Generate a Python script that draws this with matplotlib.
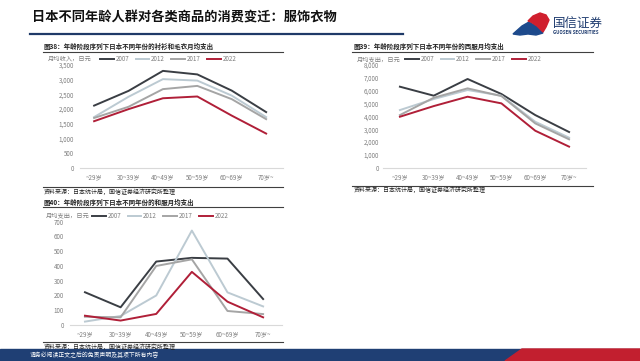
import matplotlib.pyplot as plt
import numpy as np
from matplotlib.lines import Line2D
from matplotlib.patches import Polygon, Rectangle
from matplotlib.ticker import FuncFormatter

plt.rcParams['font.family'] = ['Noto Sans CJK SC', 'DejaVu Sans']

# data
ages = ['~29岁', '30~39岁', '40~49岁', '50~59岁', '60~69岁', '70岁~']
years = ['2007', '2012', '2017', '2022']

# 图38 衬衫和毛衣
shirt_2007 = [2120, 2620, 3300, 3180, 2630, 1900]
shirt_2012 = [1730, 2420, 3020, 2970, 2460, 1730]
shirt_2017 = [1700, 2080, 2680, 2790, 2340, 1660]
shirt_2022 = [1590, 2000, 2370, 2430, 1780, 1170]

# 图39 西服
suit_2007 = [6310, 5610, 6910, 5740, 4100, 2780]
suit_2012 = [4490, 5350, 6050, 5610, 3580, 2340]
suit_2017 = [4100, 5450, 6180, 5580, 3450, 2210]
suit_2022 = [3970, 4800, 5530, 5010, 2880, 1640]

# 图40 和服
kimono_2007 = [222, 120, 430, 455, 450, 176]
kimono_2012 = [23, 61, 200, 640, 221, 126]
kimono_2017 = [56, 52, 400, 445, 95, 74]
kimono_2022 = [63, 30, 75, 360, 158, 52]

colors = ['#3a3e44', '#bccad2', '#a5a5a5', '#b01f38']

W, H = 640, 361
fig = plt.figure(figsize=(6.4, 3.61), dpi=100)


def fx(x):
    return x / W


def fy(y):
    return 1 - y / H


def hline(x0, x1, y, color, lw):
    fig.add_artist(Line2D([fx(x0), fx(x1)], [fy(y), fy(y)], color=color, lw=lw,
                          transform=fig.transFigure))


def panel(rect, series, ymax, ystep, xlim, ylab, leg_x, ylab_x, pad):
    left, right, top, bottom = rect
    ax = fig.add_axes([fx(left), fy(bottom), fx(right - left), (bottom - top) / H])
    x = np.arange(len(ages))
    for vals, yr, c in zip(series, years, colors):
        ax.plot(x, vals, color=c, lw=1.4, label=yr)
    ax.set_xlim(*xlim)
    ax.set_ylim(0, ymax)
    ax.set_yticks(np.arange(0, ymax + 1, ystep))
    ax.yaxis.set_major_formatter(FuncFormatter(lambda v, p: f'{int(v):,}'))
    ax.set_xticks(x)
    ax.set_xticklabels(ages)
    for s in ['top', 'right', 'left']:
        ax.spines[s].set_visible(False)
    ax.spines['bottom'].set_color('#d9d9d9')
    ax.spines['bottom'].set_linewidth(0.8)
    ax.tick_params(length=0, labelsize=4.5, labelcolor='#7f7f7f')
    ax.tick_params(axis='y', pad=pad)
    ax.tick_params(axis='x', pad=4)
    ax.patch.set_alpha(0)
    fig.legend(handles=ax.get_lines(), loc='center left',
               bbox_to_anchor=(fx(leg_x), fy(top - 6)), ncol=4, frameon=False,
               fontsize=4.5, handlelength=2.2, handletextpad=0.3,
               columnspacing=1.0, borderpad=0, borderaxespad=0,
               labelcolor='#7f7f7f')
    fig.text(fx(ylab_x), fy(top - 6), ylab, fontsize=4.5, color='#7f7f7f',
             va='center', ha='left')
    return ax


# header
fig.text(fx(32), fy(18), '日本不同年龄人群对各类商品的消费变迁：服饰衣物',
         fontsize=9.5, fontweight='bold', va='center', ha='left', color='#111111')
hline(30, 403, 34, '#1f3a68', 1.6)

# logo
red = [(528, 21), (533, 16), (540, 13), (546, 15), (549, 20), (546, 27),
       (543, 32), (537, 26), (531, 22)]
blue = [(513, 34), (522, 26), (529, 22), (536, 26), (543, 33), (536, 35),
        (528, 34), (520, 35)]
for pts, c in [(blue, '#1d4a8c'), (red, '#d01f2e')]:
    fig.add_artist(Polygon([(fx(a), fy(b)) for a, b in pts], closed=True,
                           color=c, transform=fig.transFigure))
fig.text(fx(553), fy(23), '国信证券', fontsize=9, color='#1d3a6e',
         va='center', ha='left')
fig.text(fx(553), fy(33), 'GUOSEN SECURITIES', fontsize=3.2, color='#1d3a6e',
         fontweight='bold', va='center', ha='left')

# 图38
fig.text(fx(44), fy(46), '图38：年龄阶段序列下日本不同年份的衬衫和毛衣月均支出',
         fontsize=4.7, fontweight='bold', va='center', ha='left', color='#222222')
hline(43, 283, 51.5, '#404040', 0.8)
panel((80, 283, 65, 168), [shirt_2007, shirt_2012, shirt_2017, shirt_2022],
      3500, 500, (-0.41, 5.49), '月均收入，日元', 100, 48, 4.4)
hline(43, 283, 187, '#404040', 0.8)
fig.text(fx(44), fy(192), '资料来源：日本统计局，国信证券经济研究所整理',
         fontsize=4.3, va='center', ha='left', color='#222222')

# 图39
fig.text(fx(354), fy(46), '图39：年龄阶段序列下日本不同年份的西服月均支出',
         fontsize=4.7, fontweight='bold', va='center', ha='left', color='#222222')
hline(352, 593, 51.5, '#404040', 0.8)
panel((383, 586, 65, 167.7), [suit_2007, suit_2012, suit_2017, suit_2022],
      8000, 1000, (-0.5, 5.5), '月均支出，日元', 405, 357, 3)
hline(352, 593, 186, '#404040', 0.8)
fig.text(fx(354), fy(190), '资料来源：日本统计局，国信证券经济研究所整理',
         fontsize=4.3, va='center', ha='left', color='#222222')

# 图40
fig.text(fx(44), fy(202), '图40：年龄阶段序列下日本不同年份的和服月均支出',
         fontsize=4.7, fontweight='bold', va='center', ha='left', color='#222222')
hline(43, 283, 207, '#404040', 0.8)
panel((70, 282, 221.7, 325), [kimono_2007, kimono_2012, kimono_2017, kimono_2022],
      700, 100, (-0.42, 5.53), '月均支出，日元', 92, 46, 4.3)
hline(43, 283, 342, '#404040', 0.8)
fig.text(fx(44), fy(346.5), '资料来源：日本统计局，国信证券经济研究所整理',
         fontsize=4.3, va='center', ha='left', color='#222222')

# footer bar
fig.add_artist(Rectangle((0, 0), 1, fy(349), color='#1f3f74',
                         transform=fig.transFigure))
foot_red = [(505, 361), (522, 349), (640, 349), (640, 361)]
fig.add_artist(Polygon([(fx(a), fy(b)) for a, b in foot_red], closed=True,
                       color='#c21f2f', transform=fig.transFigure))
fig.text(fx(30), fy(355), '请务必阅读正文之后的免责声明及其项下所有内容',
         fontsize=4.2, color='white', va='center', ha='left')

fig.savefig('out.png', dpi=100)
